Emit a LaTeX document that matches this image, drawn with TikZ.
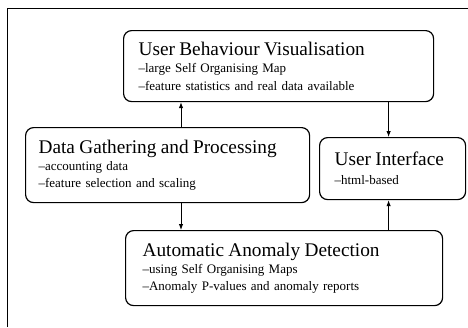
\documentclass[tikz,border=0pt]{standalone}
\usepackage{fontspec}
\setmainfont{Liberation Serif}
\usetikzlibrary{arrows.meta}
\setlength{\lineskiplimit}{-100pt}
\hyphenpenalty=10000
\newcommand{\heading}[1]{{\fontsize{19.3}{17.5}\selectfont #1}}
\newcommand{\subtext}{\fontsize{13}{17.3}\selectfont}
\tikzset{
  blk/.style={draw, line width=1.2pt, rounded corners=8pt, anchor=north west,
    align=left, inner xsep=15pt, inner ysep=0pt, font=\subtext},
  arr/.style={line width=0.9pt, -{Latex[length=6pt,width=4.5pt]}}
}

\begin{document}
\begin{tikzpicture}[x=1pt,y=-1pt]
    \useasboundingbox (0,0) rectangle (468,327);
    \draw[line width=0.9pt] (7,327) -- (7,8) -- (468,8);

    \node[blk, text width=280pt, minimum width=310pt, minimum height=71pt] (ubv) at (123,30)
        {\heading{User Behaviour Visualisation}\\ –large Self Organising Map\\ –feature statistics and real data available};
    \node[blk, text width=258pt, minimum width=284pt, minimum height=75pt, inner xsep=13pt] (dgp) at (25,127)
        {\heading{Data Gathering and Processing}\\ –accounting data\\ –feature selection and scaling};
    \node[blk, text width=116pt, minimum width=146pt, minimum height=62pt] (ui) at (319,137)
        {\heading{User Interface}\\[1.5pt] –html-based};
    \node[blk, text width=283pt, minimum width=317pt, minimum height=75pt, inner xsep=17pt] (aad) at (125,230)
        {\heading{Automatic Anomaly Detection}\\ –using Self Organising Maps\\ –Anomaly P-values and anomaly reports};

    \coordinate (up) at ([xshift=156pt]dgp.north west);
    \coordinate (down) at ([xshift=156pt]dgp.south west);
    \coordinate (uitop) at ([xshift=-4pt]ui.north);
    \coordinate (uibot) at ([xshift=-4pt]ui.south);
    \draw[arr] (up) -- (up |- ubv.south);
    \draw[arr] (uitop |- ubv.south) -- (uitop);
    \draw[arr] (down) -- (down |- aad.north);
    \draw[arr] (uibot |- aad.north) -- (uibot);
\end{tikzpicture}
\end{document}
